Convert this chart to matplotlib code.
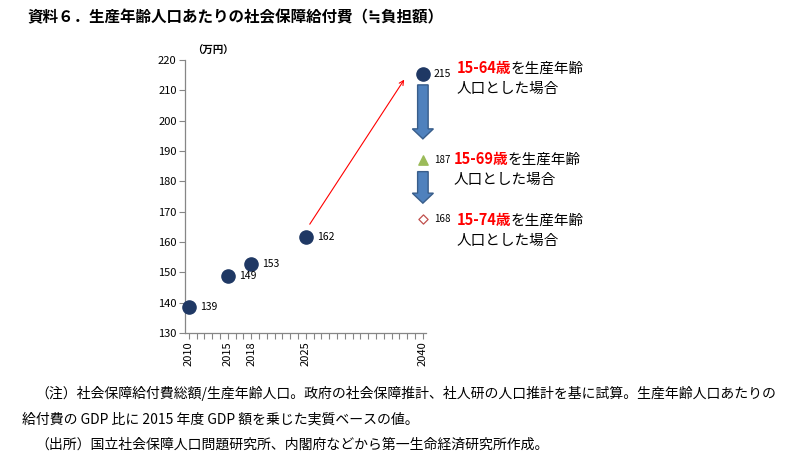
import matplotlib.pyplot as plt
from matplotlib.patches import FancyArrow

plt.rcParams['font.family'] = ['Noto Sans CJK JP', 'DejaVu Sans']

# 生産年齢人口(15-64歳)あたりの給付費
years = [2010, 2015, 2018, 2025, 2040]
values = [138.7, 148.7, 152.8, 161.6, 215.3]
labels = ['139', '149', '153', '162', '215']

# 2040年、生産年齢人口の定義を変えた場合
alt_year = 2040
alt_values = [186.9, 167.7]
alt_labels = ['187', '168']

# 右側の説明
cases = ['15-64歳', '15-69歳', '15-74歳']
case_rest = 'を生産年齢'
case_line2 = '人口とした場合'

yticks = list(range(130, 221, 10))
xlabels = [2010, 2015, 2018, 2025, 2040]

W, H = 798, 465


def px(x, y):
    # ピクセル座標 -> figure座標
    return x / W, 1 - y / H


fig = plt.figure(figsize=(W / 100, H / 100), dpi=100)
ax = fig.add_axes([185 / W, 1 - 333 / H, 241 / W, 273 / H])

# 点
ax.scatter(years, values, s=90, color='#1F3864', zorder=3, clip_on=False)
ax.scatter([alt_year], [alt_values[0]], marker='^', s=45, color='#9BBB59',
           zorder=3, clip_on=False)
ax.scatter([alt_year], [alt_values[1]], marker='D', s=22, facecolor='white',
           edgecolor='#C0504D', linewidth=0.9, zorder=3, clip_on=False)

# データラベル
for x, v, t in zip(years, values, labels):
    ax.annotate(t, (x, v), xytext=(8, 0), textcoords='offset points',
                va='center', ha='left', fontsize=7.5)
for v, t in zip(alt_values, alt_labels):
    ax.annotate(t, (alt_year, v), xytext=(8, 0), textcoords='offset points',
                va='center', ha='left', fontsize=7)

# 赤い矢印
ax.annotate('', xy=(2037.8, 214.3), xytext=(2025.3, 165.1),
            arrowprops=dict(arrowstyle='->', color='red', lw=0.8,
                            mutation_scale=8))

# 青い下向き矢印
for y0, y1 in [(211.8, 194.0), (183.2, 172.8)]:
    arr = FancyArrow(alt_year, y0, 0, y1 - y0, width=1.35, head_width=2.7,
                     head_length=3.3, length_includes_head=True,
                     facecolor='#4F81BD', edgecolor='#385D8A', linewidth=1.0,
                     clip_on=False, zorder=2)
    ax.add_patch(arr)

# 軸
ax.set_xlim(2009.5, 2040.4)
ax.set_ylim(130, 220)
ax.set_yticks(yticks)
ax.set_xticks(xlabels)
ax.set_xticklabels([str(x) for x in xlabels], rotation=90, fontsize=8)
ax.set_xticks(range(2010, 2041), minor=True)
ax.tick_params(axis='y', labelsize=8, length=4, width=0.8, color='#868686',
               pad=2)
ax.tick_params(axis='x', which='both', length=4, width=0.8, color='#868686',
               pad=2)
for s in ['top', 'right']:
    ax.spines[s].set_visible(False)
for s in ['left', 'bottom']:
    ax.spines[s].set_color('#868686')
    ax.spines[s].set_linewidth(0.9)

# 単位
fig.text(*px(192, 51), '（万円）', fontsize=7.5, fontweight='bold',
         va='center', ha='left')

# 右側の説明文
for (cx, cy), c in zip([(457, 68), (454, 159), (457, 220)], cases):
    t1 = fig.text(*px(cx, cy), c, color='#FF0000', fontsize=10.5,
                  fontweight='bold', va='center', ha='left')
    ax.annotate(case_rest, xy=(1, 0), xycoords=t1, xytext=(-1, 0),
                textcoords='offset points', va='bottom', ha='left',
                fontsize=10.5, annotation_clip=False)
    fig.text(*px(cx, cy + 21), case_line2, fontsize=10.5, va='center',
             ha='left')

# タイトル
fig.text(*px(27, 17), '資料６．生産年齢人口あたりの社会保障給付費（≒負担額）',
         fontsize=11.2, fontweight='bold', va='center', ha='left')

# 注記
fig.text(*px(35, 393), '（注）社会保障給付費総額/生産年齢人口。政府の社会保障推計、社人研の人口推計を基に試算。生産年齢人口あたりの',
         fontsize=10, va='center', ha='left')
fig.text(*px(22, 419), '給付費の GDP 比に 2015 年度 GDP 額を乗じた実質ベースの値。',
         fontsize=10, va='center', ha='left')
fig.text(*px(35, 445), '（出所）国立社会保障人口問題研究所、内閣府などから第一生命経済研究所作成。',
         fontsize=10, va='center', ha='left')

fig.savefig('out.png', dpi=100)
